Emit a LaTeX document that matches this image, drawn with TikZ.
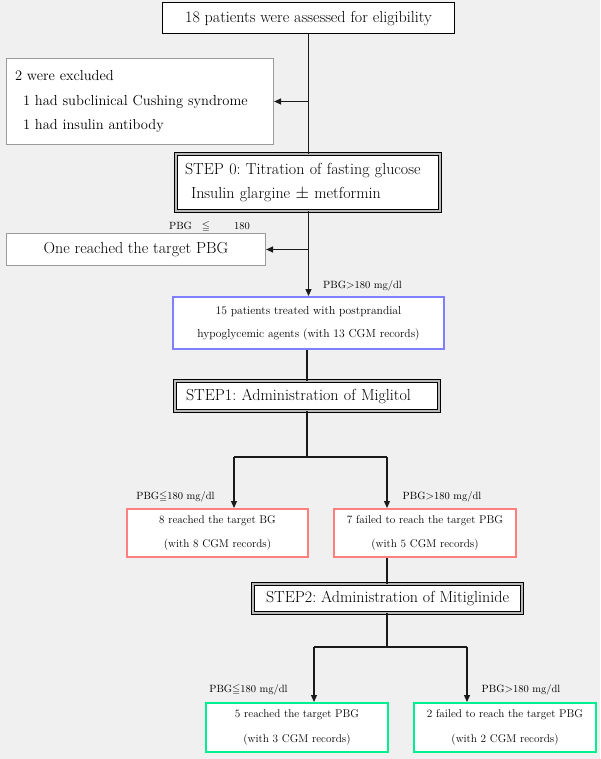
\documentclass[tikz,border=0pt]{standalone}
\usepackage{amssymb}
\usetikzlibrary{arrows.meta}
\definecolor{bg}{HTML}{F0F0F0}
\definecolor{exgray}{HTML}{9A9A9A}
\definecolor{bluebd}{HTML}{8080FF}
\definecolor{redbd}{HTML}{FF7F7F}
\definecolor{greenbd}{HTML}{00F090}
\definecolor{linegray}{HTML}{1A1A1A}
\newcommand\bigtxt{\fontsize{16}{24}\selectfont\frenchspacing}
\newcommand\extxt{\fontsize{14.5}{24.5}\selectfont\frenchspacing}
\newcommand\smalltxt{\fontsize{11.2}{24.5}\selectfont}
\newcommand\bluetxt{\fontsize{11.6}{23}\selectfont}
\newcommand\lbltxt{\fontsize{10.5}{12}\selectfont}
\tikzset{
  plainbox/.style={draw=black, line width=1pt, fill=white, inner sep=0pt, font=\bigtxt},
  graybox/.style={draw=exgray, line width=1.2pt, fill=white, inner sep=0pt, font=\bigtxt},
  stepbox/.style={draw=black, line width=0.9pt, double=gray!55, double distance=1.6pt, fill=white, inner sep=0pt, font=\bigtxt},
  bluebox/.style={draw=bluebd, line width=2pt, fill=white, inner sep=0pt, font=\bluetxt, align=center},
  redbox/.style={draw=redbd, line width=2pt, fill=white, inner sep=0pt, font=\smalltxt, align=center},
  greenbox/.style={draw=greenbd, line width=2pt, fill=white, inner sep=0pt, font=\smalltxt, align=center},
  lbl/.style={font=\lbltxt, inner sep=0pt},
  conn/.style={draw=linegray, line width=1.2pt},
  arr/.style={conn, -{Triangle[length=7pt,width=6pt]}}
}
\begin{document}
\begin{tikzpicture}[x=1pt,y=-1pt]
\fill[bg] (0,0) rectangle (600,759);
\useasboundingbox (0,0) rectangle (600,759);

% nodes
\node[plainbox, minimum width=292pt, minimum height=31pt] (top) at (308.5,18.5) {18 patients were assessed for eligibility};
\node[graybox, font=\extxt, minimum width=267pt, minimum height=86pt, text width=250pt, align=left] (excl) at (140,101.5)
  {2 were excluded\\\hspace*{8pt}1 had subclinical Cushing syndrome\\\hspace*{8pt}1 had insulin antibody};
\node[stepbox, minimum width=264pt, minimum height=57pt, text width=246pt, align=left] (step0) at (308,182.5)
  {STEP 0: Titration of fasting glucose\\\hspace*{6pt}Insulin glargine $\pm$ metformin};
\node[lbl] (lbl0) at (209.5,227) {PBG\hspace{10pt}$\leqq$\hspace{24pt}180};
\node[graybox, minimum width=259pt, minimum height=32pt] (one) at (136,249.5) {One reached the target PBG};
\node[lbl] (lbl1) at (362.5,286) {PBG$>$180 mg/dl};
\node[bluebox, minimum width=271pt, minimum height=52pt] (p15) at (308.5,323)
  {15 patients treated with postprandial\\hypoglycemic agents (with 13 CGM records)};
\node[stepbox, minimum width=264pt, minimum height=30pt, text width=242pt, align=left] (step1) at (307,396)
  {STEP1: Administration of Miglitol};
\node[redbox, minimum width=181pt, minimum height=48pt] (r8) at (217.5,533)
  {8 reached the target BG\\(with 8 CGM records)};
\node[redbox, minimum width=182pt, minimum height=48pt] (f7) at (425,533)
  {7 failed to reach the target PBG\\(with 5 CGM records)};
\node[lbl] (lbl2) at (175.5,497) {PBG$\leqq$180 mg/dl};
\node[lbl] (lbl3) at (442,497) {PBG$>$180 mg/dl};
\node[stepbox, minimum width=269pt, minimum height=29pt] (step2) at (387.5,598.5)
  {STEP2: Administration of Mitiglinide};
\node[greenbox, minimum width=182pt, minimum height=49pt] (r5) at (297,727.5)
  {5 reached the target PBG\\(with 3 CGM records)};
\node[greenbox, minimum width=182pt, minimum height=49pt] (f2) at (505,727.5)
  {2 failed to reach the target PBG\\(with 2 CGM records)};
\node[lbl] (lbl4) at (248.5,690) {PBG$\leqq$180 mg/dl};
\node[lbl] (lbl5) at (521,690) {PBG$>$180 mg/dl};

% branch coordinates
\coordinate (b1) at (307,457);
\coordinate (b1l) at (234,457);
\coordinate (b1r) at (387,457);
\coordinate (b2) at (387,647);
\coordinate (b2l) at (314,647);
\coordinate (b2r) at (467,647);

% connectors
\draw[conn] (top.south) -- (top.south |- step0.north);
\draw[arr] (top.south |- step0.south) -- (top.south |- p15.north);
\draw[arr] (top.south |- excl.east) -- (excl.east);
\draw[arr] (top.south |- one.east) -- (one.east);
\draw[conn] (p15.south -| step1.north) -- (step1.north);
\draw[conn] (step1.south) -- (b1);
\draw[conn] (b1l) -- (b1r);
\draw[arr] (b1l) -- (b1l |- r8.north);
\draw[arr] (b1r) -- (b1r |- f7.north);
\draw[conn] (b1r |- f7.south) -- (b1r |- step2.north);
\draw[conn] (step2.south -| b2) -- (b2);
\draw[conn] (b2l) -- (b2r);
\draw[arr] (b2l) -- (b2l |- r5.north);
\draw[arr] (b2r) -- (b2r |- f2.north);
\end{tikzpicture}
\end{document}
